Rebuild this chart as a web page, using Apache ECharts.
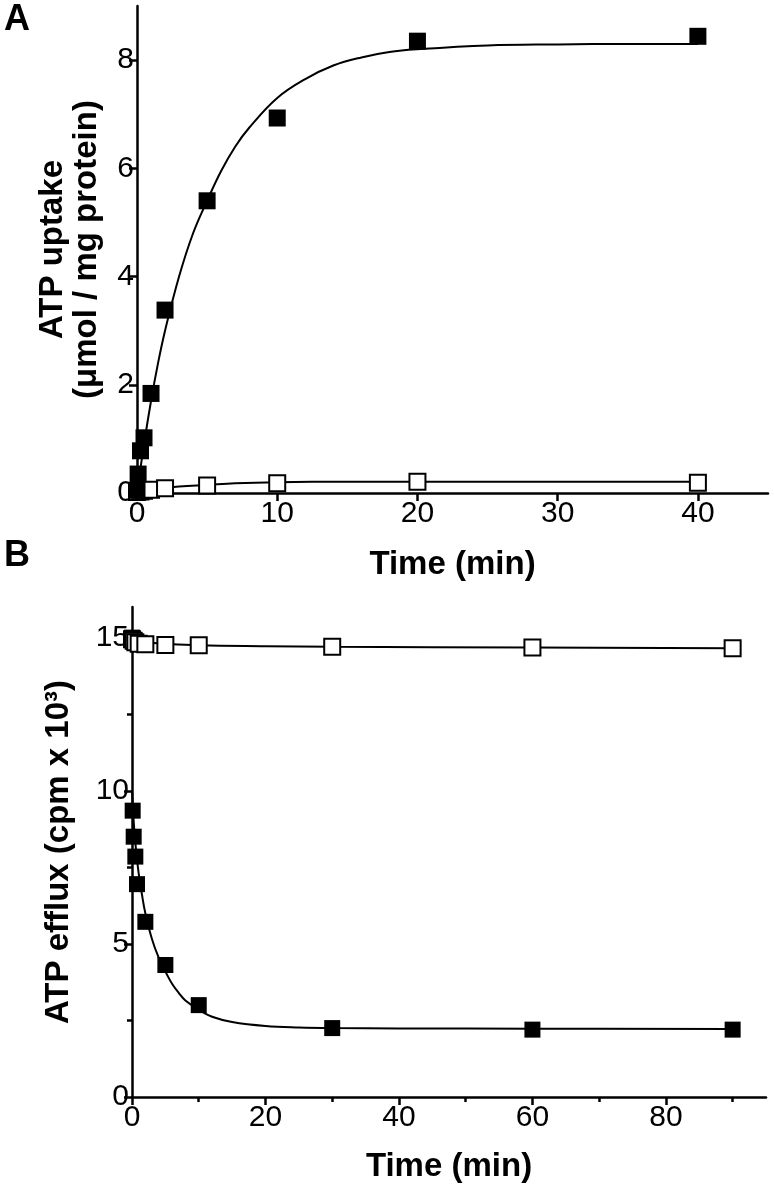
<!DOCTYPE html>
<html>
<head>
<meta charset="utf-8">
<script src="https://cdn.jsdelivr.net/npm/echarts@6/dist/echarts.min.js"></script>
<style>
html,body{margin:0;padding:0;background:#fff;}
#c{width:774px;height:1195px;}
</style>
</head>
<body>
<div id="c"></div>
<script>
// Panel A: ATP uptake
const aTimeFilled = [0, 0.08, 0.25, 0.5, 1, 2, 5, 10, 20, 40];
const aUptakeFilled = [0.05, 0.35, 0.78, 1.02, 1.84, 3.38, 5.4, 6.93, 8.35, 8.44];
const aTimeOpen = [0, 0.25, 0.5, 1, 2, 5, 10, 20, 40];
const aUptakeOpen = [0.02, 0.03, 0.04, 0.06, 0.09, 0.14, 0.18, 0.21, 0.19];
const aCurveFilledT = [0, 0.5, 1, 1.5, 2, 3, 4, 5, 6, 7, 8, 10, 12, 14, 16, 18, 20, 25, 30, 35, 40];
const aCurveFilledV = [0, 0.9, 1.7, 2.4, 3.0, 4.0, 4.8, 5.4, 5.95, 6.4, 6.75, 7.3, 7.65, 7.9, 8.05, 8.15, 8.2, 8.27, 8.29, 8.3, 8.3];
const aCurveOpenT = [0, 1, 2, 3, 5, 7, 10, 15, 20, 30, 40];
const aCurveOpenV = [0, 0.05, 0.09, 0.12, 0.15, 0.18, 0.2, 0.21, 0.21, 0.21, 0.21];
const aXTicks = [0, 10, 20, 30, 40];
const aYTicks = [0, 2, 4, 6, 8];

// Panel B: ATP efflux
const bTimeFilled = [0, 0.1, 0.25, 0.5, 0.75, 2, 5, 10, 30, 60, 90];
const bEffluxFilled = [15.0, 9.35, 8.5, 7.85, 6.95, 5.72, 4.31, 3.0, 2.25, 2.2, 2.2];
const bTimeOpen = [0, 0.25, 0.5, 1, 2, 5, 10, 30, 60, 90];
const bEffluxOpen = [14.95, 14.9, 14.85, 14.8, 14.78, 14.76, 14.75, 14.7, 14.68, 14.65];
const bCurveFilledT = [0, 0.25, 0.5, 1, 1.5, 2, 3, 4, 5, 6, 7, 8, 10, 12, 15, 20, 25, 30, 40, 60, 90];
const bCurveFilledV = [10.0, 9.0, 8.3, 7.3, 6.6, 6.0, 5.15, 4.55, 4.1, 3.7, 3.4, 3.15, 2.85, 2.62, 2.45, 2.32, 2.27, 2.25, 2.24, 2.23, 2.22];
const bCurveOpenT = [0, 0.5, 1, 2, 5, 10, 20, 30, 60, 90];
const bCurveOpenV = [15.0, 14.95, 14.9, 14.85, 14.8, 14.75, 14.72, 14.7, 14.68, 14.65];
const bXTicks = [0, 20, 40, 60, 80];
const bXMinor = [10, 30, 50, 70, 90];
const bYTicks = [0, 5, 10, 15];
const bYMinor = [2.5, 7.5, 12.5];

const zip = (a, b) => a.map((v, i) => [v, b[i]]);
const FONT = 'Liberation Sans, Arial, sans-serif';
const lineBlack = { color: '#000', width: 2.5 };
const TICK_FS = 30;

function valAxis(gi, min, max, ticks, margin, opts) {
  return Object.assign({
    type: 'value', gridIndex: gi, min: min, max: max,
    axisLine: { show: true, onZero: false, lineStyle: lineBlack },
    axisTick: { show: true, inside: false, length: 8, lineStyle: lineBlack, customValues: ticks },
    axisLabel: { show: true, customValues: ticks, color: '#000', fontSize: TICK_FS, fontFamily: FONT, margin: margin },
    splitLine: { show: false }
  }, opts || {});
}
function minorAxis(gi, min, max, ticks, pos) {
  return {
    type: 'value', gridIndex: gi, min: min, max: max, position: pos,
    axisLine: { show: false, onZero: false },
    axisTick: { show: true, length: 5, lineStyle: lineBlack, customValues: ticks },
    axisLabel: { show: false },
    splitLine: { show: false }
  };
}
const nameStyle = { color: '#000', fontSize: 33, fontWeight: 'bold', fontFamily: FONT, lineHeight: 34 };

const chart = echarts.init(document.getElementById('c'), null, { renderer: 'canvas' });
chart.setOption({
  animation: false,
  backgroundColor: '#fff',
  grid: [
    { left: 137, top: 6, width: 631, height: 487 },
    { left: 132, top: 607, width: 634, height: 490 }
  ],
  xAxis: [
    valAxis(0, 0, 45, aXTicks, 6, { name: 'Time (min)', nameLocation: 'middle', nameGap: 55, nameTextStyle: nameStyle }),
    valAxis(1, 0, 95, bXTicks, 6, { name: 'Time (min)', nameLocation: 'middle', nameGap: 53, nameTextStyle: nameStyle }),
    minorAxis(1, 0, 95, bXMinor, 'bottom')
  ],
  yAxis: [
    valAxis(0, 0, 9, aYTicks, 3, { name: 'ATP uptake\n(\u03bcmol / mg protein)', nameLocation: 'middle', nameRotate: 90, nameGap: 33, nameTextStyle: nameStyle }),
    valAxis(1, 0, 16, bYTicks, 3, { name: 'ATP efflux (cpm x 10\u00b3)', nameLocation: 'middle', nameRotate: 90, nameGap: 56, nameTextStyle: nameStyle }),
    minorAxis(1, 0, 16, bYMinor, 'left')
  ],
  graphic: [
    { type: 'text', left: 4, top: 2, style: { text: 'A', font: 'bold 36px ' + FONT, fill: '#000' } },
    { type: 'text', left: 4, top: 538, style: { text: 'B', font: 'bold 36px ' + FONT, fill: '#000' } }
  ],
  series: [
    { type: 'line', xAxisIndex: 0, yAxisIndex: 0, data: zip(aCurveFilledT, aCurveFilledV), smooth: 0.4, showSymbol: false, lineStyle: { color: '#000', width: 2 }, z: 2 },
    { type: 'line', xAxisIndex: 0, yAxisIndex: 0, data: zip(aCurveOpenT, aCurveOpenV), smooth: 0.4, showSymbol: false, lineStyle: { color: '#000', width: 2 }, z: 2 },
    { type: 'scatter', xAxisIndex: 0, yAxisIndex: 0, data: zip(aTimeOpen, aUptakeOpen), symbol: 'rect', symbolSize: 16, itemStyle: { color: '#fff', borderColor: '#000', borderWidth: 2, opacity: 1 }, z: 3 },
    { type: 'scatter', xAxisIndex: 0, yAxisIndex: 0, data: zip(aTimeFilled, aUptakeFilled), symbol: 'rect', symbolSize: 17, itemStyle: { color: '#000', opacity: 1 }, z: 4 },
    { type: 'line', xAxisIndex: 1, yAxisIndex: 1, data: zip(bCurveFilledT, bCurveFilledV), smooth: 0.4, showSymbol: false, lineStyle: { color: '#000', width: 2 }, z: 2 },
    { type: 'line', xAxisIndex: 1, yAxisIndex: 1, data: zip(bCurveOpenT, bCurveOpenV), smooth: 0.4, showSymbol: false, lineStyle: { color: '#000', width: 2 }, z: 2 },
    { type: 'scatter', xAxisIndex: 1, yAxisIndex: 1, data: zip(bTimeFilled, bEffluxFilled), symbol: 'rect', symbolSize: 16, itemStyle: { color: '#000', opacity: 1 }, z: 3 },
    { type: 'scatter', xAxisIndex: 1, yAxisIndex: 1, data: zip(bTimeOpen, bEffluxOpen), symbol: 'rect', symbolSize: 16, itemStyle: { color: '#fff', borderColor: '#000', borderWidth: 2, opacity: 1 }, z: 4 }
  ]
});
</script>
</body>
</html>
